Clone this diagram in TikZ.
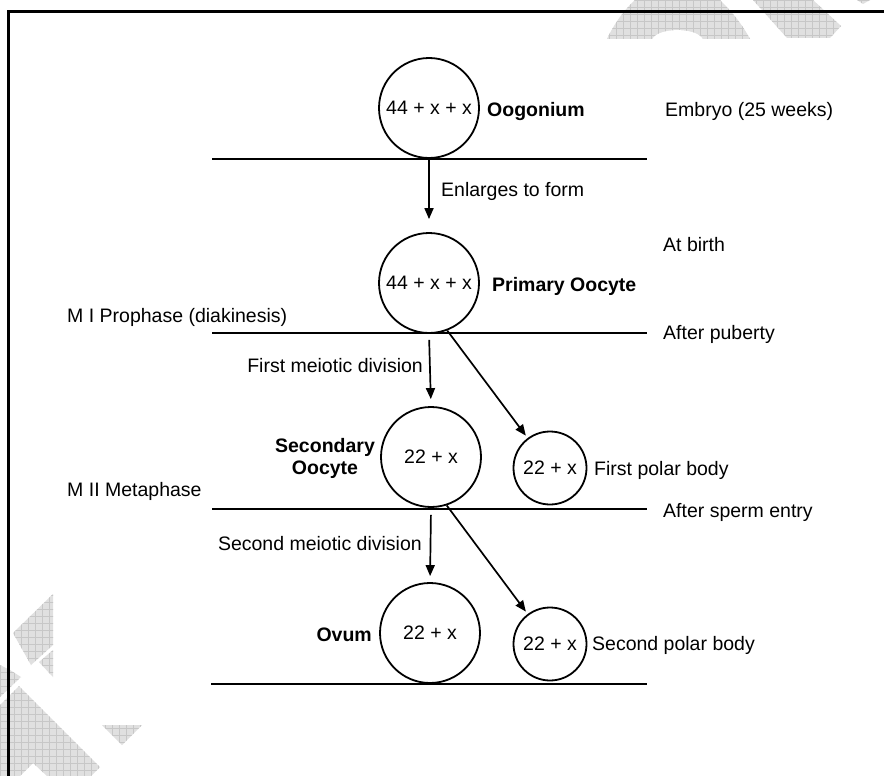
\documentclass[tikz,border=0pt]{standalone}
\usepackage{fontspec}
\setmainfont{Liberation Sans}
\usetikzlibrary{arrows.meta}
\tikzset{
  txt/.style={font=\fontsize{19.5}{22}\selectfont, inner sep=0pt},
  btxt/.style={font=\fontsize{19.5}{22}\selectfont\bfseries, inner sep=0pt},
  cell/.style={draw, circle, line width=1.8pt, inner sep=0pt, minimum size=100pt, txt},
  pbody/.style={cell, minimum size=73pt},
  sepline/.style={line width=2.3pt},
  arr/.style={line width=1.7pt, -{Triangle[length=11pt,width=9pt]}},
  framel/.style={line width=3pt}
}
\begin{document}
\begin{tikzpicture}[x=1pt,y=-1pt]
\useasboundingbox (0,0) rectangle (884,776);
\fill[white] (0,0) rectangle (884,776);
% watermark
\begin{scope}
\clip (607,39) .. controls (614,24) and (624,10) .. (635,0) -- (720,0) .. controls (732,12) and (742,24) .. (750,39) -- cycle
      (753,0) -- (813,0) -- (841,26) -- (830,38) -- (787,38) -- cycle
      (857,0) -- (870,0) -- (863,4) -- cycle
      (13,633) -- (53,594) -- (53,645) -- (31,665) -- cycle
      (39,662) -- (53,650) -- (53,677) -- cycle
      (0,665) -- (10,670) -- (21,677) -- (0,697) -- cycle
      (0,705) -- (19,686) -- (100,767) -- (91,776) -- (47,776) -- (33,763) -- (20,776) -- (0,776) -- cycle
      (102,725) -- (142,725) -- (122,745) -- cycle;
\fill[black!12] (0,0) rectangle (884,776);
\draw[black!22, line width=0.5pt, step=7pt] (0,0) grid (884,776);
\end{scope}
\fill[white] (652,39.5) .. controls (658,27) and (697,27) .. (703,39.5) -- cycle;
% frame
\draw[framel] (884,12) -- (8,12) -- (8,776);

% cells
\node[cell] (oog) at (429,108) {44 + x + x};
\node[cell] (prim) at (429,283) {44 + x + x};
\node[cell] (sec) at (431,457) {22 + x};
\node[pbody] (pb1) at (550,468) {22 + x};
\node[cell] (ovum) at (430,633) {22 + x};
\node[pbody] (pb2) at (550,644) {22 + x};

% separator lines
\coordinate (l1a) at (212,159); \coordinate (l1b) at (647,159);
\coordinate (l2a) at (212,333); \coordinate (l2b) at (647,333);
\coordinate (l3a) at (212,509); \coordinate (l3b) at (647,509);
\coordinate (l4a) at (211,684); \coordinate (l4b) at (647,684);
\draw[sepline] (l1a) -- (l1b);
\draw[sepline] (l2a) -- (l2b);
\draw[sepline] (l3a) -- (l3b);
\draw[sepline] (l4a) -- (l4b);

% arrows
\draw[arr, shorten >=13pt] (oog.south) -- (prim.north);
\draw[arr, shorten <=6pt, shorten >=7pt] (prim.south) -- (sec.north);
\draw[arr, shorten <=7pt, shorten >=6pt] (sec.south) -- (ovum.north);
\draw[arr, shorten >=3pt] (prim.-69) -- (pb1);
\draw[arr, shorten >=3pt] (sec.-72) -- (pb2);

% labels
\node[btxt, anchor=base west] (loog) at (487,117) {Oogonium};
\node[txt, anchor=base west] (lemb) at (665,116) {Embryo (25 weeks)};
\node[txt, anchor=base west] (lenl) at (441,196) {Enlarges to form};
\node[txt, anchor=base west] (lbirth) at (663,251) {At birth};
\node[btxt, anchor=base west] (lprim) at (492,291) {Primary Oocyte};
\node[txt, anchor=base west] (lmi) at (67,322) {M I Prophase (diakinesis)};
\node[txt, anchor=base west] (lpub) at (663,339) {After puberty};
\node[txt, anchor=base east] (lfmd) at (423,372) {First meiotic division};
\node[btxt, anchor=base] (lsec1) at (325,452) {Secondary};
\node[btxt, anchor=base] (lsec2) at (325,474) {Oocyte};
\node[txt, anchor=base west] (lfpb) at (594,475) {First polar body};
\node[txt, anchor=base west] (lmii) at (67,496) {M II Metaphase};
\node[txt, anchor=base west] (lsperm) at (663,517) {After sperm entry};
\node[txt, anchor=base east] (lsmd) at (422,550) {Second meiotic division};
\node[btxt, anchor=base east] (lovum) at (372,641) {Ovum};
\node[txt, anchor=base west] (lspb) at (592,650) {Second polar body};
\end{tikzpicture}
\end{document}
